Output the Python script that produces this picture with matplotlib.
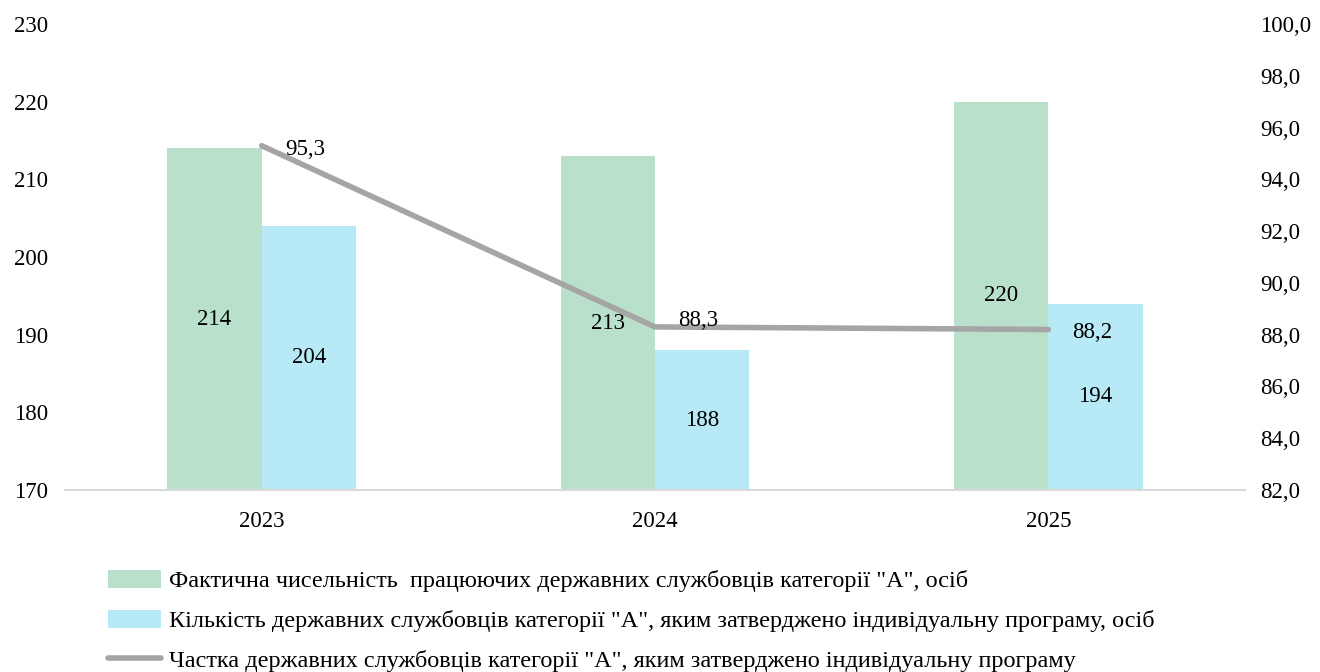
import matplotlib.pyplot as plt
import numpy as np

years = ["2023", "2024", "2025"]
actual = [214, 213, 220]
approved = [204, 188, 194]
share = [95.3, 88.3, 88.2]

labels = [
    'Фактична чисельність  працюючих державних службовців категорії "А", осіб',
    'Кількість державних службовців категорії "А", яким затверджено індивідуальну програму, осіб',
    'Частка державних службовців категорії "А", яким затверджено індивідуальну програму',
]

green = "#b9e0cb"
blue = "#b8e9f7"
grey = "#a5a5a5"

plt.rcParams["font.family"] = ["Liberation Serif", "DejaVu Serif"]
plt.rcParams["font.size"] = 16.5

fig = plt.figure(figsize=(13.2, 6.72), dpi=100)
ax = fig.add_axes([65 / 1320, 1 - 490 / 672, 1180 / 1320, 466 / 672])
ax2 = ax.twinx()

x = np.arange(len(years))
w = 0.24
b1 = ax.bar(x - w / 2, [a - 170 for a in actual], w, bottom=170, color=green, label=labels[0])
b2 = ax.bar(x + w / 2, [a - 170 for a in approved], w, bottom=170, color=blue, label=labels[1])
for i in range(len(years)):
    ax.text(x[i] - w / 2, (170 + actual[i]) / 2, str(actual[i]), ha="center", va="center")
    ax.text(x[i] + w / 2, (170 + approved[i]) / 2, str(approved[i]), ha="center", va="center")

ln, = ax2.plot(x, share, color=grey, lw=4, solid_capstyle="round", label=labels[2])
label_dy = [-0.15, 0.25, -0.1]
for i, v in enumerate(share):
    ax2.text(x[i] + 0.06, v + label_dy[i], f"{v:.1f}".replace(".", ","), ha="left", va="center")

ax.set_xlim(-0.5, 2.5)
ax.set_ylim(170, 230)
ax.set_yticks(range(170, 231, 10))
ax2.set_ylim(82, 100)
ax2.set_yticks(np.arange(82, 100.1, 2))
ax2.set_yticklabels([f"{t:.1f}".replace(".", ",") for t in np.arange(82, 100.1, 2)])
ax.set_xticks(x)
ax.set_xticklabels(years)

for a in (ax, ax2):
    for s in a.spines.values():
        s.set_visible(False)
    a.tick_params(length=0)
ax.spines["bottom"].set_visible(True)
ax.spines["bottom"].set_color("#d9d9d9")
ax.spines["bottom"].set_linewidth(1.5)
ax.tick_params(axis="x", pad=15)
ax.tick_params(axis="y", pad=12)
ax2.tick_params(axis="y", pad=11)

fig.legend(handles=[b1, b2, ln], labels=labels, loc="upper left",
           bbox_to_anchor=(108 / 1320, 1 - 570 / 672), frameon=False,
           handlelength=2.2, handleheight=0.75, handletextpad=0.3,
           labelspacing=0.72, borderaxespad=0, borderpad=0, fontsize=17.5)

fig.savefig("out.png", dpi=100)
